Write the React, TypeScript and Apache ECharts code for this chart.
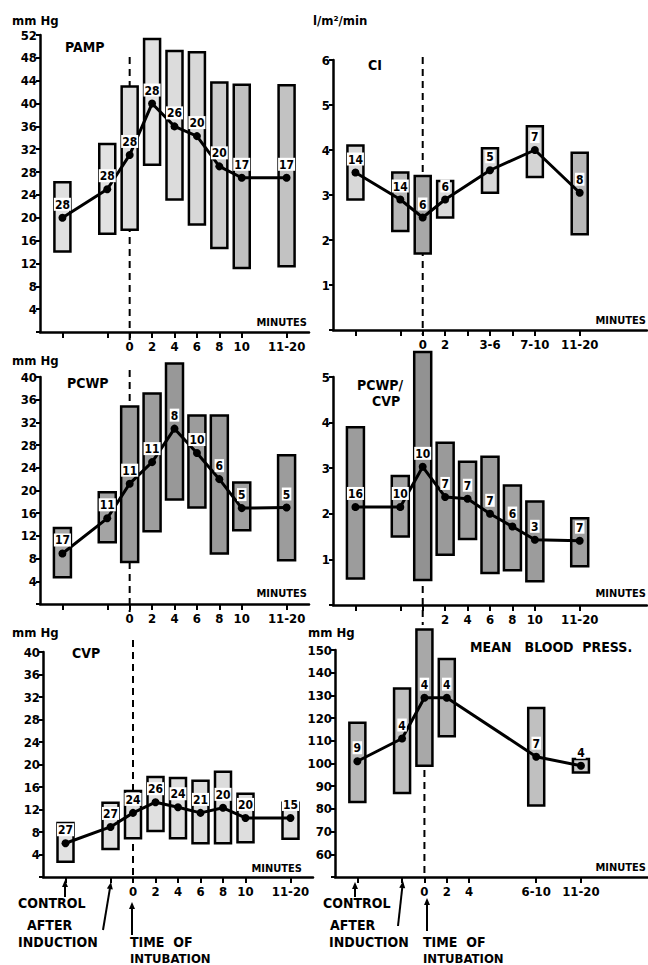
import React, { useEffect, useRef } from "react";
import * as echarts from "echarts";

const FONT = "'Liberation Sans Narrow', 'DejaVu Sans Condensed', 'DejaVu Sans', sans-serif";

// Time slots on the x axis: control = -6, after induction = -2, minutes 0..10, "11-20" = 14
const leftTickValues = [-6, -2, 0, 2, 4, 6, 8, 10, 14];
const leftLabelValues = [0, 2, 4, 6, 8, 10, 14];
const leftLabelTexts = ["0", "2", "4", "6", "8", "10", "11-20"];

const ciTickValues = [-6, -2, 0, 2, 4, 6, 8, 10, 14];
const ciLabelValues = [0, 2, 6, 10, 14];
const ciLabelTexts = ["0", "2", "3-6", "7-10", "11-20"];

const ratioLabelValues = [2, 4, 6, 8, 10, 14];
const ratioLabelTexts = ["2", "4", "6", "8", "10", "11-20"];

const mbpTickValues = [-6, -2, 0, 2, 4, 10, 14];
const mbpLabelValues = [0, 2, 4, 10, 14];
const mbpLabelTexts = ["0", "2", "4", "6-10", "11-20"];

// PAMP (mm Hg)
const pampTimes = [-6, -2, 0, 2, 4, 6, 8, 10, 14];
const pampMean = [20, 25, 31, 40, 36, 34.3, 29, 27, 27];
const pampLow = [14.1, 17.2, 17.9, 29.3, 23.2, 18.8, 14.7, 11.2, 11.5];
const pampHigh = [26.2, 32.9, 43, 51.3, 49.2, 49, 43.7, 43.3, 43.2];
const pampN = [28, 28, 28, 28, 26, 20, 20, 17, 17];

// CI (l/m2/min)
const ciTimes = [-6, -2, 0, 2, 6, 10, 14];
const ciMean = [3.5, 2.9, 2.5, 2.9, 3.55, 4.0, 3.05];
const ciLow = [2.9, 2.2, 1.7, 2.5, 3.05, 3.4, 2.13];
const ciHigh = [4.1, 3.5, 3.42, 3.31, 4.04, 4.53, 3.94];
const ciN = [14, 14, 6, 6, 5, 7, 8];

// PCWP (mm Hg)
const pcwpTimes = [-6, -2, 0, 2, 4, 6, 8, 10, 14];
const pcwpMean = [8.9, 15.1, 21.2, 25, 30.9, 26.6, 22, 16.9, 17];
const pcwpLow = [4.7, 10.9, 7.4, 12.8, 18.4, 17, 8.9, 13, 7.7];
const pcwpHigh = [13.4, 19.7, 34.8, 37.1, 42.4, 33.2, 33.2, 21.4, 26.2];
const pcwpN = [17, 11, 11, 11, 8, 10, 6, 5, 5];

// PCWP / CVP
const ratioTimes = [-6, -2, 0, 2, 4, 6, 8, 10, 14];
const ratioMean = [2.15, 2.15, 3.03, 2.37, 2.33, 2.0, 1.72, 1.43, 1.41];
const ratioLow = [0.58, 1.5, 0.55, 1.1, 1.45, 0.7, 0.76, 0.52, 0.85];
const ratioHigh = [3.9, 2.83, 5.55, 3.56, 3.14, 3.25, 2.62, 2.27, 1.9];
const ratioN = [16, 10, 10, 7, 7, 7, 6, 3, 7];

// CVP (mm Hg)
const cvpTimes = [-6, -2, 0, 2, 4, 6, 8, 10, 14];
const cvpMean = [6, 8.9, 11.4, 13.3, 12.4, 11.4, 12.3, 10.5, 10.5];
const cvpLow = [2.7, 5, 6.9, 8.2, 6.9, 6, 6, 6.2, 6.8];
const cvpHigh = [9.6, 13.2, 15.3, 17.8, 17.6, 17.1, 18.7, 14.8, 13.2];
const cvpN = [27, 27, 24, 26, 24, 21, 20, 20, 15];

// Mean blood pressure (mm Hg)
const mbpTimes = [-6, -2, 0, 2, 10, 14];
const mbpMean = [101, 111, 129, 129, 103, 99];
const mbpLow = [83, 87, 99, 112, 81.5, 96];
const mbpHigh = [118, 133, 159, 146, 124.5, 102];
const mbpN = [9, 4, 4, 4, 7, 4];

// box fill shades (style)
const pampShade = ["#e0e0e0", "#e2e2e2", "#dedede", "#e2e2e2", "#dcdcdc", "#d8d8d8", "#cccccc", "#c0c0c0", "#c2c2c2"];
const ciShade = ["#d8d8d8", "#b8b8b8", "#a8a8a8", "#dadada", "#d8d8d8", "#d4d4d4", "#b8b8b8"];
const pcwpShade = ["#a8a8a8", "#a4a4a4", "#9a9a9a", "#9e9e9e", "#989898", "#9c9c9c", "#9a9a9a", "#a0a0a0", "#9c9c9c"];
const ratioShade = ["#9c9c9c", "#a4a4a4", "#929292", "#9a9a9a", "#a0a0a0", "#9c9c9c", "#a2a2a2", "#9c9c9c", "#a0a0a0"];
const cvpShade = ["#e2e2e2", "#e0e0e0", "#dedede", "#e0e0e0", "#dedede", "#dcdcdc", "#dcdcdc", "#dedede", "#e0e0e0"];
const mbpShade = ["#b8b8b8", "#c0c0c0", "#a8a8a8", "#b4b4b4", "#c0c0c0", "#cccccc"];

type Panel = {
  grid: { left: number; top: number; width: number; height: number };
  xMax: number;
  yMin: number;
  yMax: number;
  yStep: number;
  tickValues: number[];
  labelValues: number[];
  labelTexts: string[];
  times: number[];
  mean: number[];
  low: number[];
  high: number[];
  n: number[];
  shade: string[];
  boxW: number;
  dashTop: number;
  dashExt: number;
};

const panels: Panel[] = [
  { grid: { left: 40, top: 35, width: 269, height: 297 }, xMax: 16, yMin: 0, yMax: 52, yStep: 4,
    tickValues: leftTickValues, labelValues: leftLabelValues, labelTexts: leftLabelTexts,
    times: pampTimes, mean: pampMean, low: pampLow, high: pampHigh, n: pampN, shade: pampShade, boxW: 16, dashTop: 22, dashExt: 8 },
  { grid: { left: 333, top: 60, width: 314, height: 270 }, xMax: 20, yMin: 0, yMax: 6, yStep: 1,
    tickValues: ciTickValues, labelValues: ciLabelValues, labelTexts: ciLabelTexts,
    times: ciTimes, mean: ciMean, low: ciLow, high: ciHigh, n: ciN, shade: ciShade, boxW: 16, dashTop: -3, dashExt: 5 },
  { grid: { left: 40, top: 377, width: 269, height: 227 }, xMax: 16, yMin: 0, yMax: 40, yStep: 4,
    tickValues: leftTickValues, labelValues: leftLabelValues, labelTexts: leftLabelTexts,
    times: pcwpTimes, mean: pcwpMean, low: pcwpLow, high: pcwpHigh, n: pcwpN, shade: pcwpShade, boxW: 17, dashTop: -7, dashExt: 8 },
  { grid: { left: 333, top: 377, width: 314, height: 228 }, xMax: 20, yMin: 0, yMax: 5, yStep: 1,
    tickValues: ciTickValues, labelValues: ratioLabelValues, labelTexts: ratioLabelTexts,
    times: ratioTimes, mean: ratioMean, low: ratioLow, high: ratioHigh, n: ratioN, shade: ratioShade, boxW: 17, dashTop: 5, dashExt: 20 },
  { grid: { left: 43, top: 652, width: 270, height: 225 }, xMax: 16, yMin: 0, yMax: 40, yStep: 4,
    tickValues: leftTickValues, labelValues: leftLabelValues, labelTexts: leftLabelTexts,
    times: cvpTimes, mean: cvpMean, low: cvpLow, high: cvpHigh, n: cvpN, shade: cvpShade, boxW: 16, dashTop: -12, dashExt: 3 },
  { grid: { left: 335, top: 650, width: 313, height: 227 }, xMax: 20, yMin: 50, yMax: 150, yStep: 10,
    tickValues: mbpTickValues, labelValues: mbpLabelValues, labelTexts: mbpLabelTexts,
    times: mbpTimes, mean: mbpMean, low: mbpLow, high: mbpHigh, n: mbpN, shade: mbpShade, boxW: 16, dashTop: 0, dashExt: 0 },
];

const texts: { t: string; x: number; y: number; a: string; s: number }[] = [
  { t: "mm Hg", x: 12, y: 20, a: "left", s: 13 },
  { t: "PAMP", x: 65, y: 47, a: "left", s: 14 },
  { t: "l/m²/min", x: 313, y: 20, a: "left", s: 13 },
  { t: "CI", x: 368, y: 65, a: "left", s: 14 },
  { t: "MINUTES", x: 307, y: 322, a: "right", s: 11 },
  { t: "MINUTES", x: 646, y: 320, a: "right", s: 11 },
  { t: "mm Hg", x: 12, y: 360, a: "left", s: 13 },
  { t: "PCWP", x: 67, y: 383, a: "left", s: 14 },
  { t: "MINUTES", x: 307, y: 593, a: "right", s: 11 },
  { t: "PCWP/", x: 380, y: 385, a: "center", s: 14 },
  { t: "CVP", x: 386, y: 401, a: "center", s: 14 },
  { t: "MINUTES", x: 646, y: 593, a: "right", s: 11 },
  { t: "mm Hg", x: 12, y: 632, a: "left", s: 13 },
  { t: "CVP", x: 72, y: 653, a: "left", s: 14 },
  { t: "MINUTES", x: 302, y: 868, a: "right", s: 11 },
  { t: "mm Hg", x: 308, y: 632, a: "left", s: 13 },
  { t: "MEAN   BLOOD  PRESS.", x: 470, y: 647, a: "left", s: 14 },
  { t: "MINUTES", x: 646, y: 867, a: "right", s: 11 },
  { t: "CONTROL", x: 18, y: 903, a: "left", s: 14 },
  { t: "AFTER", x: 27, y: 925, a: "left", s: 14 },
  { t: "INDUCTION", x: 18, y: 942, a: "left", s: 14 },
  { t: "TIME  OF", x: 130, y: 942, a: "left", s: 14 },
  { t: "INTUBATION", x: 130, y: 958, a: "left", s: 13 },
  { t: "CONTROL", x: 323, y: 903, a: "left", s: 14 },
  { t: "AFTER", x: 330, y: 925, a: "left", s: 14 },
  { t: "INDUCTION", x: 329, y: 942, a: "left", s: 14 },
  { t: "TIME  OF", x: 423, y: 942, a: "left", s: 14 },
  { t: "INTUBATION", x: 423, y: 958, a: "left", s: 13 },
];

// arrows: from (x1,y1) tail to (x2,y2) head
const arrows = [
  [65, 897, 65, 880],
  [103, 930, 111, 882],
  [132, 935, 132, 902],
  [355, 897, 355, 882],
  [398, 926, 403, 881],
  [427, 931, 427, 898],
];

function arrowGraphic(a: number[]) {
  const [x1, y1, x2, y2] = a;
  const dx = x2 - x1, dy = y2 - y1;
  const len = Math.sqrt(dx * dx + dy * dy);
  const ux = dx / len, uy = dy / len;
  const hl = 7, hw = 3;
  const bx = x2 - ux * hl, by = y2 - uy * hl;
  return [
    { type: "line", shape: { x1, y1, x2: bx, y2: by }, style: { stroke: "#000", lineWidth: 2 } },
    { type: "polygon", shape: { points: [[x2, y2], [bx - uy * hw, by + ux * hw], [bx + uy * hw, by - ux * hw]] }, style: { fill: "#000" } },
  ];
}

export default function App() {
  const ref = useRef<HTMLDivElement>(null);
  useEffect(() => {
    if (!ref.current) return;
    const chart = echarts.init(ref.current, undefined, { renderer: "svg" });
    const grid: any[] = [];
    const xAxis: any[] = [];
    const yAxis: any[] = [];
    const series: any[] = [];
    const axisFont = { color: "#000", fontWeight: "bold", fontSize: 13, fontFamily: FONT };
    panels.forEach((p, i) => {
      grid.push({ ...p.grid });
      const xMap: Record<string, string> = {};
      p.labelValues.forEach((v, k) => (xMap[String(v)] = p.labelTexts[k]));
      xAxis.push({
        gridIndex: i, type: "value", min: -8, max: p.xMax,
        splitLine: { show: false },
        axisLine: { onZero: false, lineStyle: { color: "#000", width: 2.5 } },
        axisTick: { show: true, customValues: p.tickValues, length: 6, lineStyle: { color: "#000", width: 2 } },
        axisLabel: { ...axisFont, margin: 8, customValues: p.labelValues, formatter: (v: number) => xMap[String(v)] ?? "" },
      });
      yAxis.push({
        gridIndex: i, type: "value", min: p.yMin, max: p.yMax, interval: p.yStep,
        splitLine: { show: false },
        axisLine: { show: true, onZero: false, lineStyle: { color: "#000", width: 2.5 } },
        axisTick: { show: true, length: 4, lineStyle: { color: "#000", width: 2 } },
        axisLabel: { ...axisFont, margin: 3, formatter: (v: number) => (v === p.yMin ? "" : String(v)) },
      });
      const dashTop = p.dashTop, dashExt = p.dashExt;
      series.push({
        type: "custom", xAxisIndex: i, yAxisIndex: i, z: 1, clip: false, silent: true,
        data: [[0, p.yMin]],
        renderItem: (params: any, api: any) => {
          const cs = params.coordSys;
          const x = api.coord([api.value(0), api.value(1)])[0];
          return {
            type: "line",
            shape: { x1: x, y1: cs.y + dashTop, x2: x, y2: cs.y + cs.height + dashExt },
            style: { stroke: "#000", lineWidth: 2, lineDash: [7, 5] },
          };
        },
      });
      const shade = p.shade, bw = p.boxW;
      series.push({
        type: "custom", xAxisIndex: i, yAxisIndex: i, z: 2, clip: false, silent: true,
        data: p.times.map((t, k) => [t, p.low[k], p.high[k]]),
        renderItem: (params: any, api: any) => {
          const x = api.value(0);
          const top = api.coord([x, api.value(2)]);
          const bot = api.coord([x, api.value(1)]);
          return {
            type: "rect",
            shape: { x: top[0] - bw / 2, y: top[1], width: bw, height: bot[1] - top[1] },
            style: { fill: shade[params.dataIndex], stroke: "#000", lineWidth: 2.5 },
          };
        },
      });
      const nArr = p.n;
      series.push({
        type: "line", xAxisIndex: i, yAxisIndex: i, z: 3, silent: true,
        data: p.times.map((t, k) => [t, p.mean[k]]),
        symbol: "circle", symbolSize: 8,
        itemStyle: { color: "#000" },
        lineStyle: { color: "#000", width: 3 },
        label: {
          show: true, position: "top", distance: 3,
          formatter: (prm: any) => String(nArr[prm.dataIndex]),
          color: "#000", fontWeight: "bold", fontSize: 12, fontFamily: FONT,
          backgroundColor: "#fff", padding: [1, 1, 0, 1],
        },
      });
    });
    const graphic: any[] = [];
    texts.forEach((t) => {
      graphic.push({
        type: "text", x: t.x, y: t.y, silent: true,
        style: { text: t.t, fill: "#000", fontSize: t.s, fontWeight: "bold", fontFamily: FONT, textAlign: t.a, textVerticalAlign: "middle" },
      });
    });
    arrows.forEach((a) => graphic.push(...arrowGraphic(a)));
    chart.setOption({
      animation: false,
      backgroundColor: "#fff",
      grid, xAxis, yAxis, series, graphic,
    });
    return () => chart.dispose();
  }, []);
  return <div ref={ref} style={{ position: "absolute", left: 0, top: 0, width: 648, height: 965 }} />;
}
